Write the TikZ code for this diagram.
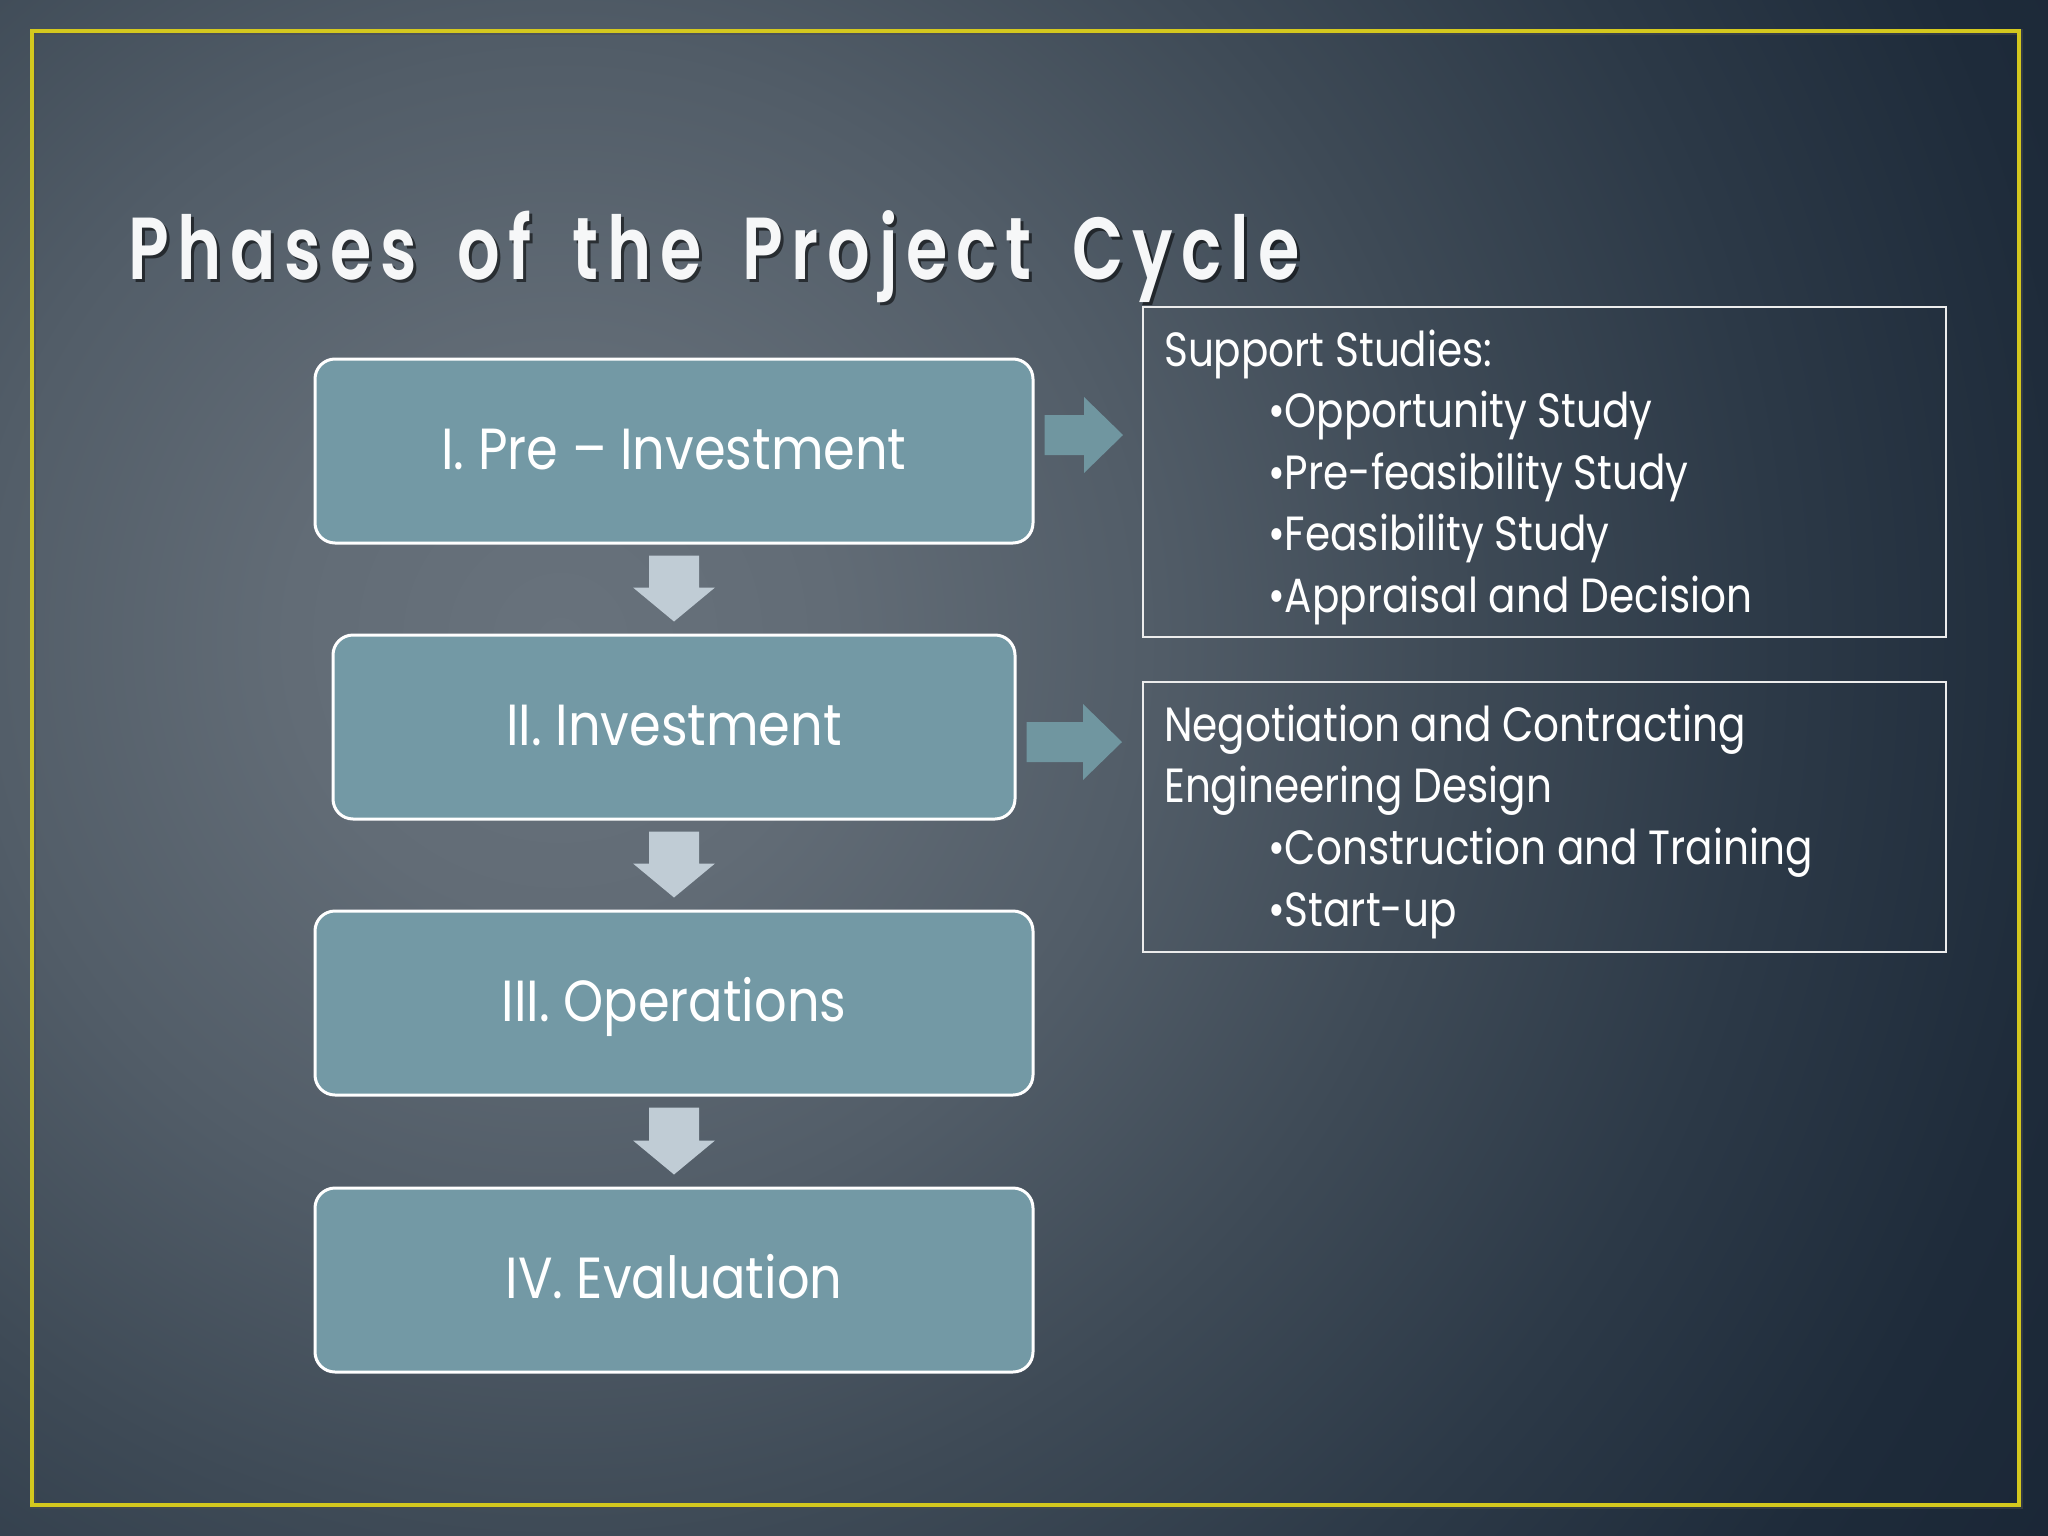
\documentclass[tikz,border=0pt]{standalone}
\usepackage{fontspec}
\setmainfont{Poppins}[FakeStretch=0.845]
\newfontfamily\labelfont{Poppins}[FakeStretch=0.88]
\newfontfamily\titlefont{Poppins SemiBold}[FakeStretch=0.76, LetterSpace=10, WordSpace=1.65]
\usetikzlibrary{calc}
\definecolor{boxfill}{RGB}{115,153,165}
\definecolor{downcol}{RGB}{192,204,213}
\definecolor{rightcol}{RGB}{112,150,160}
\definecolor{yellowline}{RGB}{212,200,30}
\definecolor{bgA}{RGB}{104,114,124}
\definecolor{bgB}{RGB}{98,108,118}
\definecolor{bgC}{RGB}{82,93,104}
\definecolor{bgD}{RGB}{62,74,86}
\definecolor{bgE}{RGB}{44,57,71}
\definecolor{bgF}{RGB}{30,43,58}
\definecolor{bgG}{RGB}{24,36,52}
\definecolor{titlewhite}{RGB}{246,247,248}
% the path's radius corresponds to 25bp
\pgfdeclareradialshading{bgshade}{\pgfpoint{0bp}{0bp}}{color(0bp)=(bgA); color(3.55bp)=(bgB); color(7.7bp)=(bgC); color(11.84bp)=(bgD); color(16bp)=(bgE); color(20.1bp)=(bgF); color(25bp)=(bgG); color(50bp)=(bgG)}
\newcommand\dblock[2]{\fill[downcol] ($(#1)+(-25,0)$) -- ($(#1)+(25,0)$) -- ($(#2)+(25,-34)$) -- ($(#2)+(41,-34)$) -- (#2) -- ($(#2)+(-41,-34)$) -- ($(#2)+(-25,-34)$) -- cycle;}
\newcommand\rblock[2]{\fill[rightcol] ($(#1)+(0,-20)$) -- ($(#2)+(-39,-20)$) -- ($(#2)+(-39,-38)$) -- (#2) -- ($(#2)+(-39,38)$) -- ($(#2)+(-39,20)$) -- ($(#1)+(0,20)$) -- cycle;}
\begin{document}
\begin{tikzpicture}[x=1pt,y=-1pt,
  phase/.style={draw=white, line width=3pt, rounded corners=20pt, fill=boxfill, minimum height=184pt, inner sep=0pt},
  phaselabel/.style={anchor=base, text=white, font=\labelfont\fontsize{58}{70}\selectfont, inner sep=0pt},
  infobox/.style={draw=white!85!gray, line width=2pt, minimum width=803pt, inner sep=0pt},
  infotext/.style={anchor=base west, text=white, font=\fontsize{48}{58}\selectfont, inner sep=0pt}]
\useasboundingbox (0,0) rectangle (2048,1536);
\begin{scope}
\clip (0,0) rectangle (2048,1536);
\fill[bgG] (0,0) rectangle (2048,1536);
\shade[shading=bgshade] (560,640) circle (1900);
\end{scope}
% yellow frame
\draw[black!70, line width=6pt, opacity=0.5] (33,32) rectangle (2020,1506);
\draw[yellowline, line width=4pt] (32,31) rectangle (2019,1505);
% title
\node[anchor=base west, inner sep=0pt, text=black, opacity=0.55] (titleshadow) at (131,282) {\titlefont\fontsize{88}{100}\selectfont Phases of the Project Cycle};
\node[anchor=base west, inner sep=0pt, text=titlewhite] (title) at (128,279) {\titlefont\fontsize{88}{100}\selectfont Phases of the Project Cycle};
% phase boxes
\node[phase, minimum width=718pt] (b1) at (674,451) {};
\node[phase, minimum width=682pt] (b2) at (674,727) {};
\node[phase, minimum width=718pt] (b3) at (674,1003) {};
\node[phase, minimum width=718pt] (b4) at (674,1280) {};
\node[phaselabel] (l1) at ($(b1.center)+(0,18)$) {I. Pre – Investment};
\node[phaselabel] (l2) at ($(b2.center)+(0,18)$) {II. Investment};
\node[phaselabel] (l3) at ($(b3.center)+(0,18)$) {III. Operations};
\node[phaselabel] (l4) at ($(b4.center)+(0,18)$) {IV. Evaluation};
% down arrows
\coordinate (d1f) at ($(b1.south)+(0,11)$);
\coordinate (d1t) at ($(b2.north)+(0,-12)$);
\coordinate (d2f) at ($(b2.south)+(0,11)$);
\coordinate (d2t) at ($(b3.north)+(0,-12)$);
\coordinate (d3f) at ($(b3.south)+(0,11)$);
\coordinate (d3t) at ($(b4.north)+(0,-12)$);
\dblock{d1f}{d1t}
\dblock{d2f}{d2t}
\dblock{d3f}{d3t}
% info boxes
\node[infobox, minimum height=330pt] (s1) at (1544.5,472) {};
\node[infobox, minimum height=270pt] (s2) at (1544.5,817) {};
\node[infotext] (s1a) at ($(s1.north west)+(22,60)$) {Support Studies:};
\node[infotext] (s1b) at ($(s1.north west)+(126,121.5)$) {•Opportunity Study};
\node[infotext] (s1c) at ($(s1.north west)+(126,183)$) {•Pre-feasibility Study};
\node[infotext] (s1d) at ($(s1.north west)+(126,244.5)$) {•Feasibility Study};
\node[infotext] (s1e) at ($(s1.north west)+(126,306)$) {•Appraisal and Decision};
\node[infotext] (s2a) at ($(s2.north west)+(22,60)$) {Negotiation and Contracting};
\node[infotext] (s2b) at ($(s2.north west)+(22,121)$) {Engineering Design};
\node[infotext] (s2c) at ($(s2.north west)+(126,183)$) {•Construction and Training};
\node[infotext] (s2d) at ($(s2.north west)+(126,245)$) {•Start-up};
% right arrows
\coordinate (r1f) at ($(b1.east)+(10,-16)$);
\coordinate (r1t) at ($(s1.west)+(-19,-37)$);
\coordinate (r2f) at ($(b2.east)+(10,15)$);
\coordinate (r2t) at ($(s2.west)+(-20,-75)$);
\rblock{r1f}{r1t}
\rblock{r2f}{r2t}
\end{tikzpicture}
\end{document}
